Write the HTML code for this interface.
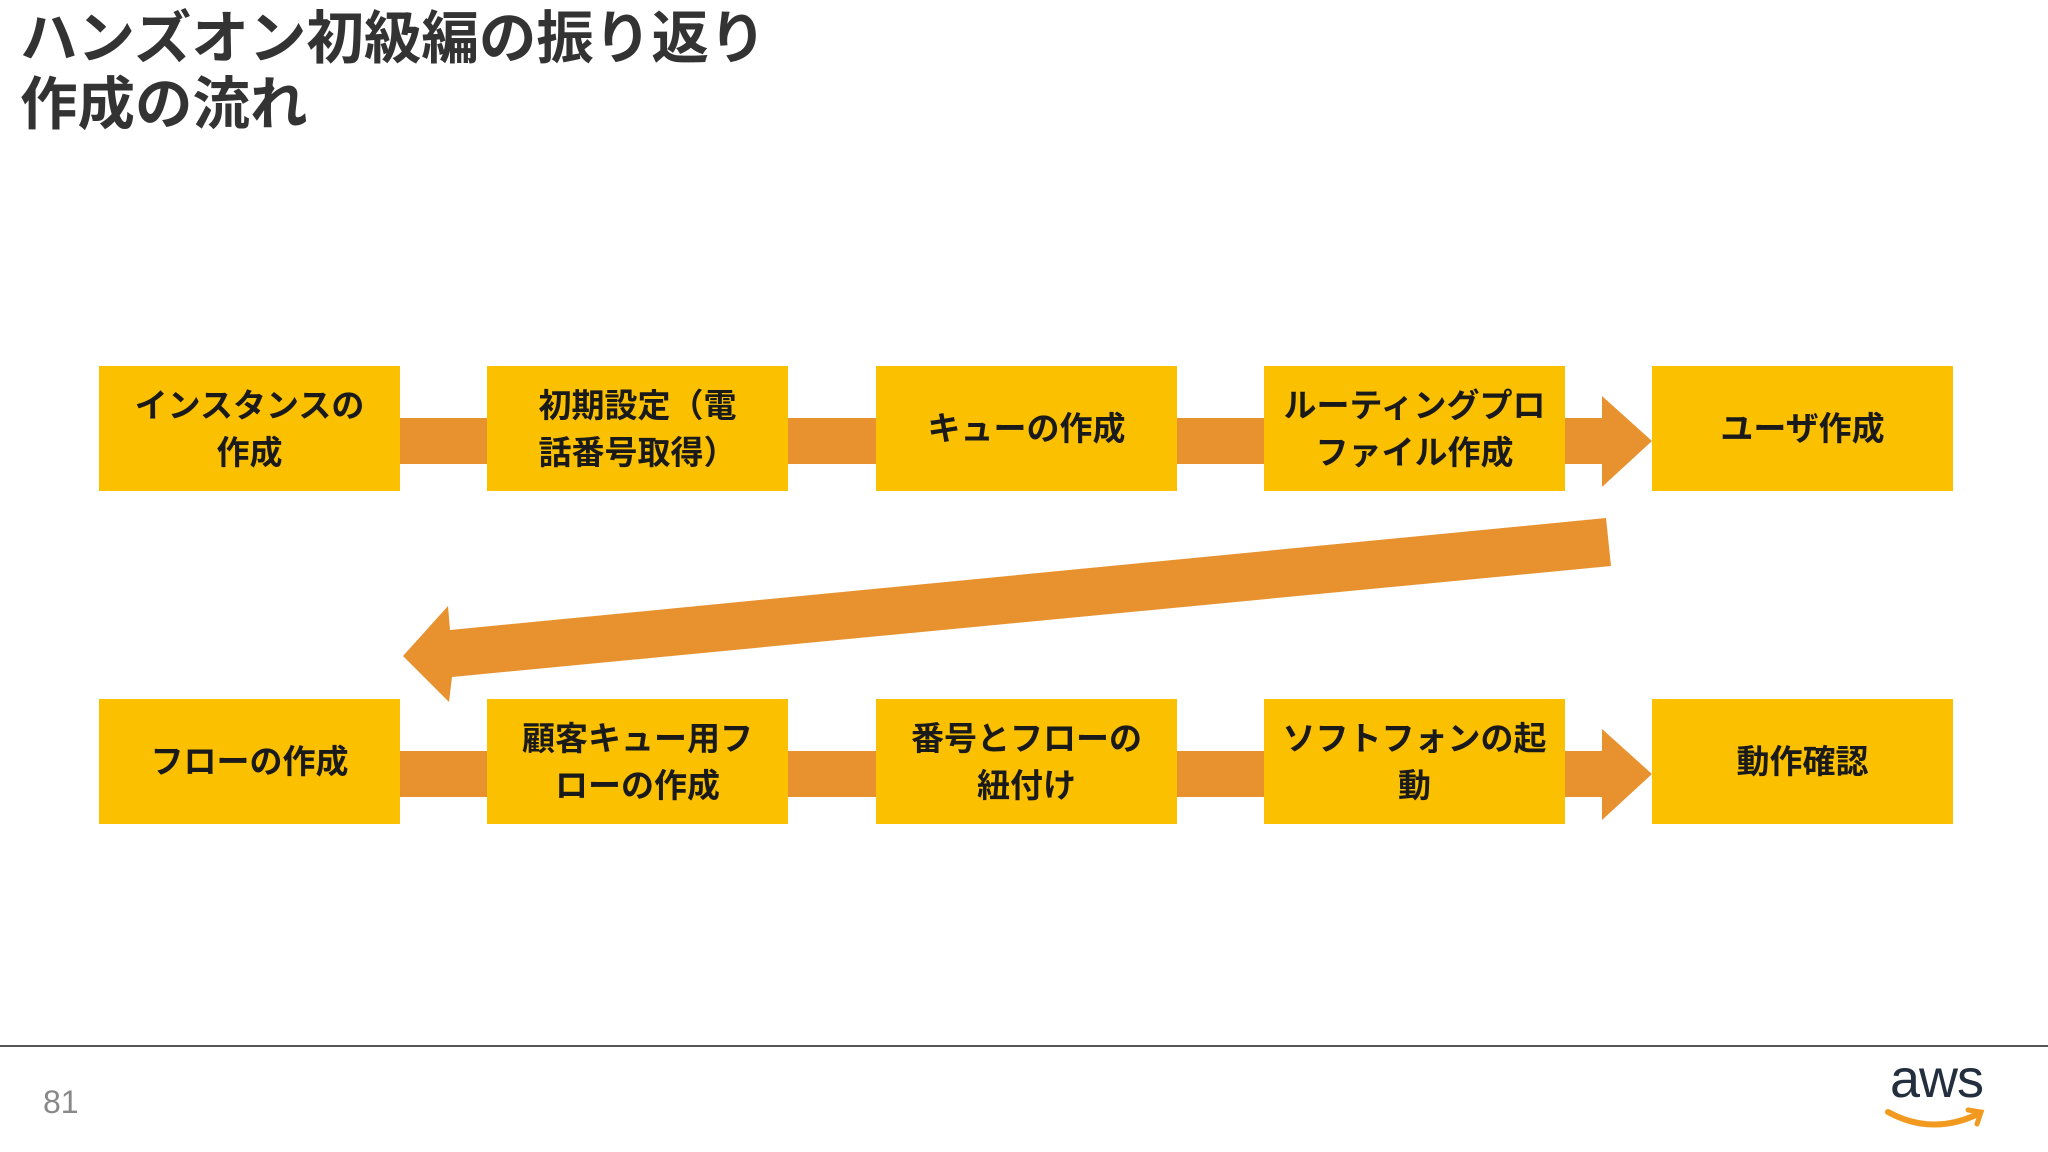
<!DOCTYPE html>
<html><head><meta charset="utf-8"><style>
body{margin:0;width:2048px;height:1152px;background:#fff;position:relative;overflow:hidden;font-family:"Liberation Sans","Noto Sans CJK JP",sans-serif}
.t{position:absolute;left:20px;font-size:57.5px;font-weight:bold;color:#333;line-height:66px;white-space:nowrap}
.b{position:absolute;width:301px;height:125px;background:#FBC000;display:flex;align-items:center;justify-content:center;text-align:center;font-size:33px;font-weight:bold;color:#1a1a1a;line-height:47px}
</style></head><body>
<div class="t" style="top:6px">ハンズオン初級編の振り返り</div>
<div class="t" style="top:72px">作成の流れ</div>
<svg width="2048" height="1152" style="position:absolute;left:0;top:0">
<g fill="#E8912F">
<rect x="390" y="418" width="110" height="46"/>
<rect x="778" y="418" width="110" height="46"/>
<rect x="1166" y="418" width="110" height="46"/>
<rect x="1554" y="418" width="54" height="46"/>
<polygon points="1602,396 1652,441 1602,487"/>
<rect x="390" y="751" width="110" height="46"/>
<rect x="778" y="751" width="110" height="46"/>
<rect x="1166" y="751" width="110" height="46"/>
<rect x="1554" y="751" width="54" height="46"/>
<polygon points="1602,729 1652,774 1602,820"/>
<polygon points="1606,518 1611,566 452,677 449,702 403,656 448,606 450,630"/>
</g>
</svg>
<div class="b" style="left:99px;top:366px">インスタンスの<br>作成</div>
<div class="b" style="left:487px;top:366px">初期設定（電<br>話番号取得）</div>
<div class="b" style="left:876px;top:366px">キューの作成</div>
<div class="b" style="left:1264px;top:366px">ルーティングプロ<br>ファイル作成</div>
<div class="b" style="left:1652px;top:366px">ユーザ作成</div>
<div class="b" style="left:99px;top:699px">フローの作成</div>
<div class="b" style="left:487px;top:699px">顧客キュー用フ<br>ローの作成</div>
<div class="b" style="left:876px;top:699px">番号とフローの<br>紐付け</div>
<div class="b" style="left:1264px;top:699px">ソフトフォンの起<br>動</div>
<div class="b" style="left:1652px;top:699px">動作確認</div>
<div style="position:absolute;left:0;top:1045px;width:2048px;height:2px;background:#555"></div>
<div style="position:absolute;left:43px;top:1084px;font-size:32px;color:#888">81</div>
<div style="position:absolute;left:1890px;top:1048px;font-size:54px;color:#232f3e;font-weight:500;letter-spacing:-1px">aws</div>
<svg width="110" height="40" style="position:absolute;left:1882px;top:1104px"><path d="M6,8 Q50,32 96,10" stroke="#F29A1F" stroke-width="6" fill="none" stroke-linecap="round"/><path d="M86,6 L99,8 L95,20" stroke="#F29A1F" stroke-width="5" fill="none" stroke-linecap="round"/></svg>
</body></html>
